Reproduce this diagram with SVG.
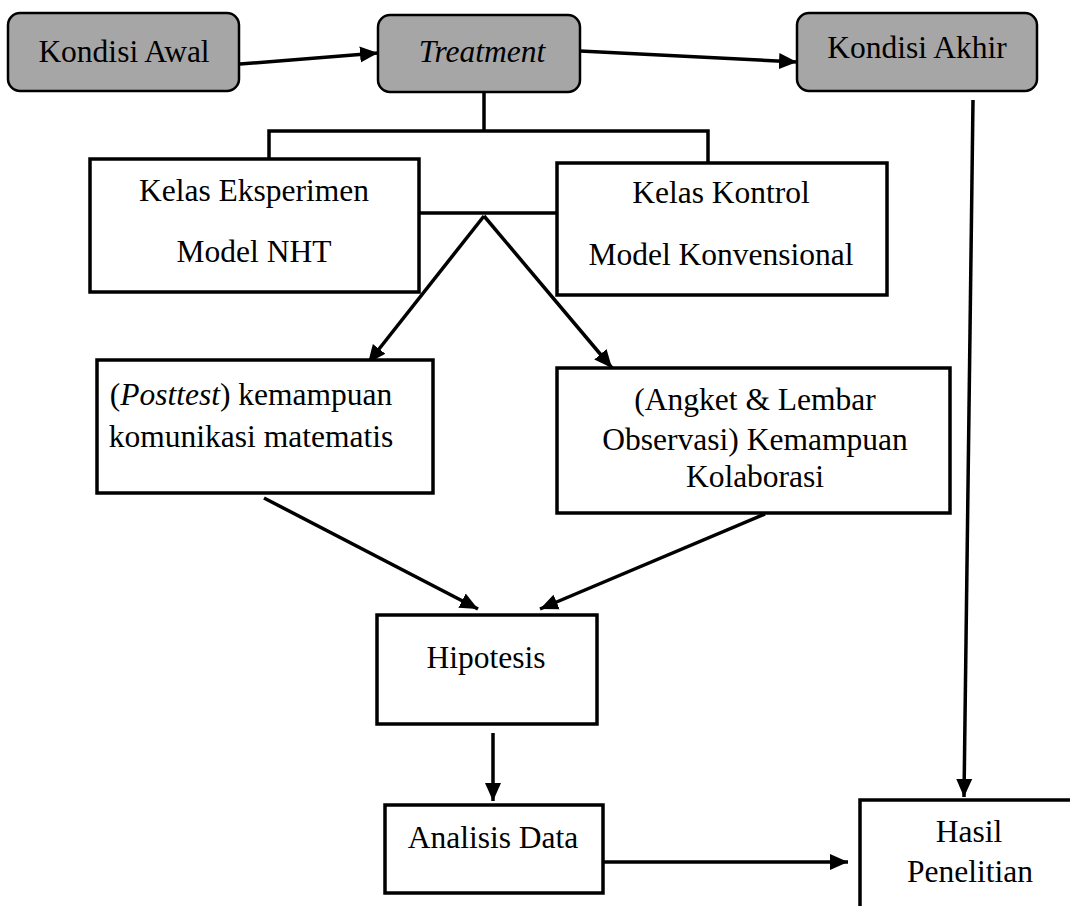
<svg xmlns="http://www.w3.org/2000/svg" width="1070" height="906" viewBox="0 0 1070 906">
<defs>
<marker id="ah" markerUnits="userSpaceOnUse" markerWidth="20" markerHeight="20" refX="18" refY="10" orient="auto">
<path d="M0,2 L18,10 L0,18 z" fill="#000"/>
</marker>
<style>
.rbox{fill:#a6a6a6;stroke:#000;stroke-width:2.5}
.box{fill:#fff;stroke:#000;stroke-width:3.5}
.t{font-family:'Liberation Serif','DejaVu Serif',serif;font-size:31.5px;fill:#000;text-anchor:middle}
.i{font-style:italic}
.c{fill:none;stroke:#000;stroke-width:3.5}
.a{fill:none;stroke:#000;stroke-width:3.5;marker-end:url(#ah)}
</style>
</defs>
<rect width="1070" height="906" fill="#fff"/>
<g id="connectors">
<line class="a" x1="240" y1="64" x2="378" y2="53"/>
<line class="a" x1="580" y1="51" x2="797" y2="62"/>
<polyline class="c" points="484,92 484,131"/>
<polyline class="c" points="269,159 269,131 708,131 708,163"/>
<line class="c" x1="419" y1="213" x2="560" y2="213"/>
<line class="a" x1="484" y1="216" x2="368" y2="363"/>
<line class="a" x1="484" y1="216" x2="612" y2="368"/>
<line class="a" x1="264" y1="498" x2="478" y2="609"/>
<line class="a" x1="765" y1="514" x2="540" y2="609"/>
<line class="a" x1="493" y1="733" x2="493" y2="801"/>
<line class="a" x1="603" y1="862" x2="848" y2="862"/>
<line class="a" x1="973" y1="100" x2="964" y2="797"/>
</g>
<g id="kondisi-awal">
<rect class="rbox" x="8" y="13" width="231" height="78" rx="12"/>
<text class="t" x="124" y="62">Kondisi Awal</text>
</g>
<g id="treatment">
<rect class="rbox" x="378" y="15" width="202" height="77" rx="12"/>
<text class="t i" x="482" y="62">Treatment</text>
</g>
<g id="kondisi-akhir">
<rect class="rbox" x="797" y="13" width="240" height="78" rx="12"/>
<text class="t" x="917" y="58">Kondisi Akhir</text>
</g>
<g id="kelas-eksperimen">
<rect class="box" x="90" y="159" width="329" height="133"/>
<text class="t" x="254" y="201">Kelas Eksperimen</text>
<text class="t" x="254" y="262">Model NHT</text>
</g>
<g id="kelas-kontrol">
<rect class="box" x="557" y="163" width="330" height="132"/>
<text class="t" x="721" y="203">Kelas Kontrol</text>
<text class="t" x="721" y="265">Model Konvensional</text>
</g>
<g id="posttest">
<rect class="box" x="97" y="360" width="336" height="133"/>
<text class="t" x="251" y="405">(<tspan class="i">Posttest</tspan>) kemampuan</text>
<text class="t" x="251" y="447">komunikasi matematis</text>
</g>
<g id="angket">
<rect class="box" x="557" y="368" width="393" height="145"/>
<text class="t" x="755" y="410">(Angket &amp; Lembar</text>
<text class="t" x="755" y="450">Observasi) Kemampuan</text>
<text class="t" x="755" y="487">Kolaborasi</text>
</g>
<g id="hipotesis">
<rect class="box" x="377" y="615" width="220" height="109"/>
<text class="t" x="486" y="668">Hipotesis</text>
</g>
<g id="analisis-data">
<rect class="box" x="385" y="805" width="218" height="88"/>
<text class="t" x="493" y="848">Analisis Data</text>
</g>
<g id="hasil-penelitian">
<rect class="box" x="860" y="800" width="260" height="150"/>
<text class="t" x="969" y="842">Hasil</text>
<text class="t" x="970" y="882">Penelitian</text>
</g>
</svg>
